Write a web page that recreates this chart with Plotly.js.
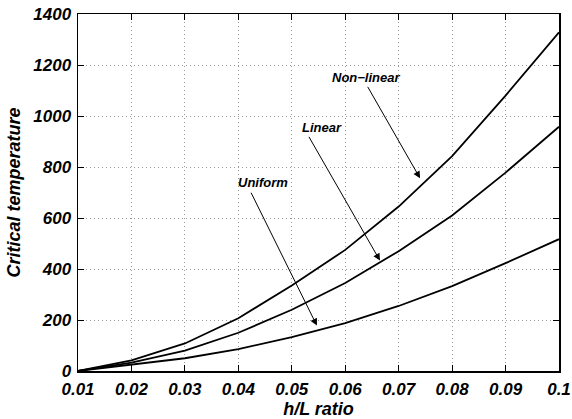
<!DOCTYPE html>
<html>
<head>
<meta charset="utf-8">
<script src="https://cdn.plot.ly/plotly-3.0.1.min.js"></script>
<style>html,body{margin:0;padding:0;background:#fff;}#chart{width:572px;height:419px;}</style>
</head>
<body>
<div id="chart"></div>
<script>
const hL = [0.01, 0.02, 0.03, 0.04, 0.05, 0.06, 0.07, 0.08, 0.09, 0.1];
const nonLinear = [0, 42, 108, 207, 335, 475, 645, 843, 1080, 1328];
const linear = [0, 33, 80, 150, 240, 345, 470, 610, 778, 958];
const uniform = [0, 24, 50, 86, 133, 188, 255, 333, 423, 517];
const xTicks = [0.01, 0.02, 0.03, 0.04, 0.05, 0.06, 0.07, 0.08, 0.09, 0.1];
const xTickText = ['0.01', '0.02', '0.03', '0.04', '0.05', '0.06', '0.07', '0.08', '0.09', '0.1'];
const yTicks = [0, 200, 400, 600, 800, 1000, 1200, 1400];

const F = 'Liberation Sans, Arial, sans-serif';
const line = {color: '#000', width: 1.8};
const traces = [
  {x: hL, y: nonLinear, mode: 'lines', line: line, name: 'Non-linear'},
  {x: hL, y: linear, mode: 'lines', line: line, name: 'Linear'},
  {x: hL, y: uniform, mode: 'lines', line: line, name: 'Uniform'}
];
const labFont = {family: F, size: 13, color: '#000', weight: 'bold', style: 'italic'};
function label(t, x, y) {
  return {text: t, x: x, y: y, xref: 'x', yref: 'y', showarrow: false, font: labFont};
}
function arrow(x0, y0, x1, y1) {
  return {text: ' ', x: x1, y: y1, ax: x0, ay: y0, xref: 'x', yref: 'y', axref: 'x', ayref: 'y',
    showarrow: true, arrowhead: 2, arrowsize: 1.4, arrowwidth: 1, arrowcolor: '#000',
    standoff: 0, startstandoff: 0, font: {size: 1}};
}
const tickFont = {family: F, size: 17, weight: 'bold', style: 'italic', color: '#000'};
const titleFont = {family: F, size: 18, weight: 'bold', style: 'italic', color: '#000'};
const layout = {
  width: 572, height: 419,
  margin: {l: 78, r: 13, t: 14, b: 48},
  paper_bgcolor: '#fff', plot_bgcolor: '#fff',
  showlegend: false,
  font: {family: F, color: '#000'},
  xaxis: {
    range: [0.01, 0.1], tickvals: xTicks, ticktext: xTickText,
    ticks: 'inside', ticklen: 6, tickcolor: '#000', mirror: 'ticks',
    showline: true, linecolor: '#000', linewidth: 1.5,
    showgrid: true, gridcolor: '#999', griddash: '1px,3px', gridwidth: 1,
    zeroline: false, ticklabelstandoff: 2,
    tickfont: tickFont,
    title: {text: 'h/L ratio', standoff: 3, font: titleFont}
  },
  yaxis: {
    range: [0, 1400], tickvals: yTicks,
    ticks: 'inside', ticklen: 6, tickcolor: '#000', mirror: 'ticks',
    showline: true, linecolor: '#000', linewidth: 1.5,
    showgrid: true, gridcolor: '#999', griddash: '1px,3px', gridwidth: 1,
    zeroline: false, ticklabelstandoff: 2,
    tickfont: tickFont,
    title: {text: 'Critical temperature', standoff: 8, font: titleFont}
  },
  annotations: [
    label('Non\u2212linear', 0.0638, 1152),
    arrow(0.0640, 1122, 0.0740, 756),
    label('Linear', 0.0557, 954),
    arrow(0.0530, 926, 0.0665, 433),
    label('Uniform', 0.0446, 741),
    arrow(0.0422, 707, 0.0547, 178)
  ]
};
Plotly.newPlot('chart', traces, layout, {displayModeBar: false, staticPlot: true});
</script>
</body>
</html>
